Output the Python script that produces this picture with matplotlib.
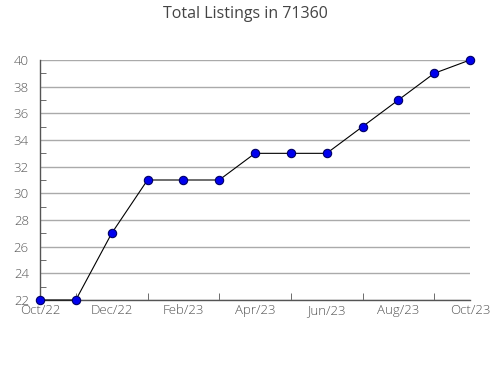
import matplotlib
matplotlib.use("Agg")
import matplotlib.pyplot as plt
from matplotlib.ticker import MultipleLocator, FixedLocator

plt.rcParams['font.family'] = ['Open Sans', 'DejaVu Sans']
plt.rcParams['font.weight'] = 'light'

months = ["Oct/22", "Nov/22", "Dec/22", "Jan/23", "Feb/23", "Mar/23", "Apr/23",
          "May/23", "Jun/23", "Jul/23", "Aug/23", "Sep/23", "Oct/23"]
values = [22, 22, 27, 31, 31, 31, 33, 33, 33, 35, 37, 39, 40]
title = "Total Listings in 71360"

fig = plt.figure(figsize=(4.9, 3.8), dpi=100)
ax = fig.add_axes([40/490, 1-300/380, 430/490, 240/380])

x = list(range(len(months)))
ax.plot(x, values, color='black', lw=0.8, marker='o', markersize=6,
        markerfacecolor='#0000ee', markeredgecolor='#000066', markeredgewidth=0.8,
        zorder=3, clip_on=False)

ax.set_xlim(0, len(months)-1)
ax.set_ylim(22, 40)
ax.yaxis.set_major_locator(MultipleLocator(2))
ax.yaxis.set_minor_locator(MultipleLocator(1))
ax.set_xticks(x[::2])
ax.set_xticklabels(months[::2])
ax.xaxis.set_minor_locator(FixedLocator(x))
ax.grid(axis='y', which='major', color='#aaaaaa', lw=1)
ax.set_axisbelow(True)

for s in ['top', 'right']:
    ax.spines[s].set_visible(False)
for s in ['left', 'bottom']:
    ax.spines[s].set_color('#555555')
    ax.spines[s].set_linewidth(1)

ax.tick_params(axis='y', which='major', direction='out', length=0, labelsize=9.5,
               labelcolor='#555555', pad=8)
ax.tick_params(axis='y', which='minor', direction='in', length=4, color='#555555')
ax.tick_params(axis='x', which='major', direction='in', length=0, labelsize=9.5,
               labelcolor='#555555', pad=3)
ax.tick_params(axis='x', which='minor', direction='in', length=5, color='#555555')

fig.suptitle(title, y=1-14/380, fontsize=11.5, color='#444444', va='center')

fig.savefig("out.png", dpi=100)
